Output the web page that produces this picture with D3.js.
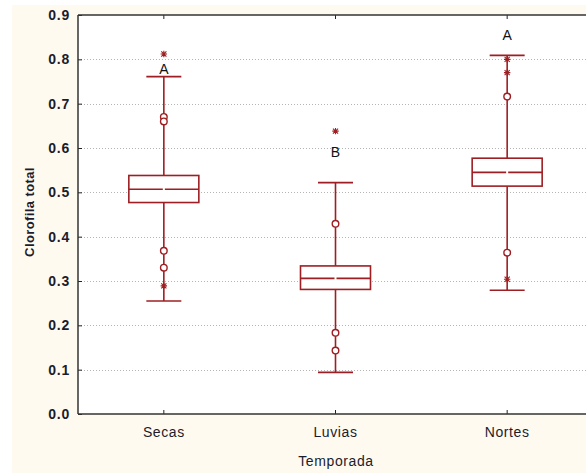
<!DOCTYPE html>
<html>
<head>
<meta charset="utf-8">
<script src="https://cdn.jsdelivr.net/npm/d3@7"></script>
<style>
  html, body { margin: 0; padding: 0; background: #ffffff; }
  svg { display: block; }
  text { font-family: "Liberation Sans", Arial, sans-serif; }
</style>
</head>
<body>
<svg id="chart" width="586" height="473"></svg>
<script>
// Clorofila total por temporada
const categories = ["Secas", "Luvias", "Nortes"];
const whiskerLow  = [0.255, 0.094, 0.279];
const q1          = [0.477, 0.281, 0.514];
const median      = [0.507, 0.306, 0.545];
const q3          = [0.538, 0.334, 0.577];
const whiskerHigh = [0.761, 0.522, 0.809];
const outliers = [
  [0.670, 0.660, 0.368, 0.330],
  [0.429, 0.183, 0.143],
  [0.716, 0.364]
];
const extremes = [
  [0.812, 0.289],
  [0.638],
  [0.800, 0.770, 0.304]
];
const groupLetters = ["A", "B", "A"];
const letterValues = [0.778, 0.592, 0.856];
const yTicks = [0.0, 0.1, 0.2, 0.3, 0.4, 0.5, 0.6, 0.7, 0.8, 0.9];

const boxColor = "#9e1f23";
const textColor = "#1c1c2c";
const svg = d3.select("#chart");

// cream page panel behind the plot
svg.append("rect").attr("x", 12).attr("y", 5).attr("width", 574).attr("height", 468).attr("fill", "#fffaf0");

const plot = { left: 78, top: 15, right: 593, bottom: 414 };
svg.append("rect")
  .attr("x", plot.left).attr("y", plot.top)
  .attr("width", plot.right - plot.left).attr("height", plot.bottom - plot.top)
  .attr("fill", "#ffffff");

const x = d3.scaleBand().domain(categories).range([plot.left, plot.right]);
const y = d3.scaleLinear().domain([0, 0.9]).range([plot.bottom, plot.top]);

// dotted gridlines
svg.append("g").selectAll("line")
  .data(yTicks.filter(t => t > 0 && t < 0.9))
  .join("line")
  .attr("x1", plot.left).attr("x2", plot.right)
  .attr("y1", d => Math.round(y(d)) + 0.5).attr("y2", d => Math.round(y(d)) + 0.5)
  .attr("stroke", "#b4b4b4").attr("stroke-width", 1).attr("stroke-dasharray", "1,2");

// y axis with inward ticks
const yAxis = svg.append("g")
  .attr("transform", `translate(${plot.left},0)`)
  .call(d3.axisLeft(y).tickValues(yTicks).tickFormat(d3.format(".1f")).tickSizeInner(-4).tickSizeOuter(0).tickPadding(8));
yAxis.select(".domain").remove();
yAxis.selectAll(".tick line").attr("stroke", "#222");
yAxis.selectAll(".tick text")
  .attr("font-size", 14).attr("fill", textColor).attr("font-weight", "bold")
  .attr("letter-spacing", "0.8px")
  .attr("font-family", "Liberation Sans, Arial, sans-serif");

// x axis bottom with inward ticks
const xAxis = svg.append("g")
  .attr("transform", `translate(0,${plot.bottom})`)
  .call(d3.axisBottom(x).tickSizeInner(-4).tickSizeOuter(0).tickPadding(13));
xAxis.select(".domain").remove();
xAxis.selectAll(".tick line").attr("stroke", "#222");
xAxis.selectAll(".tick text")
  .attr("font-size", 14).attr("fill", textColor).attr("letter-spacing", "0.6px")
  .attr("font-family", "Liberation Sans, Arial, sans-serif");

// top ticks
const xTop = svg.append("g")
  .attr("transform", `translate(0,${plot.top})`)
  .call(d3.axisTop(x).tickSizeInner(-4).tickSizeOuter(0).tickFormat(""));
xTop.select(".domain").remove();
xTop.selectAll(".tick line").attr("stroke", "#222");

// frame
const frame = svg.append("g").attr("stroke", "#333").attr("stroke-width", 1.5).attr("fill", "none");
frame.append("line").attr("x1", plot.left).attr("x2", plot.left).attr("y1", plot.top).attr("y2", plot.bottom);
frame.append("line").attr("x1", plot.left).attr("x2", plot.right).attr("y1", plot.bottom).attr("y2", plot.bottom);
frame.append("line").attr("x1", plot.left).attr("x2", plot.right).attr("y1", plot.top).attr("y2", plot.top);

// boxes
const boxW = 70, capW = 35;
const groups = svg.append("g").selectAll("g")
  .data(categories.map((c, i) => ({ c, i })))
  .join("g")
  .attr("transform", d => `translate(${x(d.c) + x.bandwidth() / 2},0)`)
  .attr("stroke", boxColor).attr("stroke-width", 1.6).attr("fill", "none");

// whisker stems
groups.append("line").attr("x1", 0).attr("x2", 0)
  .attr("y1", d => y(whiskerHigh[d.i])).attr("y2", d => y(q3[d.i]));
groups.append("line").attr("x1", 0).attr("x2", 0)
  .attr("y1", d => y(q1[d.i])).attr("y2", d => y(whiskerLow[d.i]));
// caps
groups.append("line").attr("x1", -capW / 2).attr("x2", capW / 2)
  .attr("y1", d => y(whiskerHigh[d.i])).attr("y2", d => y(whiskerHigh[d.i]));
groups.append("line").attr("x1", -capW / 2).attr("x2", capW / 2)
  .attr("y1", d => y(whiskerLow[d.i])).attr("y2", d => y(whiskerLow[d.i]));
// box
groups.append("rect")
  .attr("x", -boxW / 2).attr("width", boxW)
  .attr("y", d => y(q3[d.i])).attr("height", d => y(q1[d.i]) - y(q3[d.i]))
  .attr("fill", "#ffffff");
// median, with a small gap at the centre
groups.append("line").attr("x1", -boxW / 2).attr("x2", -1)
  .attr("y1", d => y(median[d.i])).attr("y2", d => y(median[d.i]));
groups.append("line").attr("x1", 1).attr("x2", boxW / 2)
  .attr("y1", d => y(median[d.i])).attr("y2", d => y(median[d.i]));

// outliers (circles)
groups.selectAll("circle")
  .data(d => outliers[d.i])
  .join("circle")
  .attr("cx", 0).attr("cy", v => y(v)).attr("r", 3.3)
  .attr("fill", "#ffffff").attr("stroke-width", 1.4);

// extremes (asterisks)
const ast = 3.2;
const asteriskPath = `M${-ast},0H${ast}M0,${-ast}V${ast}M${-ast * 0.8},${-ast * 0.8}L${ast * 0.8},${ast * 0.8}M${-ast * 0.8},${ast * 0.8}L${ast * 0.8},${-ast * 0.8}`;
groups.selectAll("path.extreme")
  .data(d => extremes[d.i])
  .join("path")
  .attr("class", "extreme")
  .attr("transform", v => `translate(0,${y(v)})`)
  .attr("d", asteriskPath)
  .attr("stroke-width", 1.1);

// group letters
svg.append("g").selectAll("text")
  .data(categories.map((c, i) => ({ c, i })))
  .join("text")
  .attr("x", d => x(d.c) + x.bandwidth() / 2)
  .attr("y", d => y(letterValues[d.i]))
  .attr("dy", "0.36em")
  .attr("text-anchor", "middle")
  .attr("font-size", 14).attr("fill", "#111")
  .text(d => groupLetters[d.i]);

// axis titles
svg.append("text")
  .attr("x", 336).attr("y", 466)
  .attr("text-anchor", "middle").attr("font-size", 14).attr("letter-spacing", "0.6px").attr("fill", textColor)
  .text("Temporada");
svg.append("text")
  .attr("transform", "translate(34,212) rotate(-90)")
  .attr("text-anchor", "middle").attr("font-size", 13).attr("font-weight", "bold")
  .attr("letter-spacing", "0.4px").attr("fill", textColor)
  .text("Clorofila total");
</script>
</body>
</html>
